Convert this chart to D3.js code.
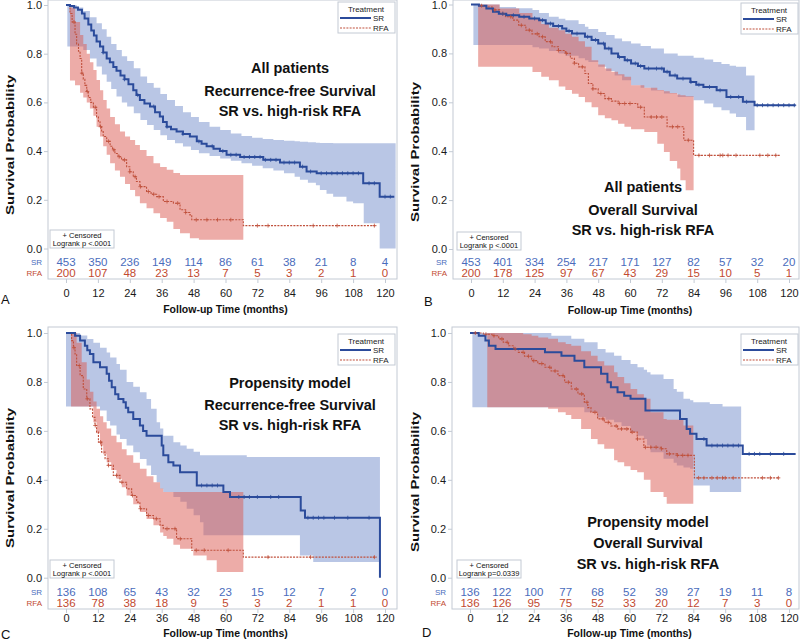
<!DOCTYPE html>
<html>
<head>
<meta charset="utf-8">
<script src="https://cdn.jsdelivr.net/npm/d3@7"></script>
<style>
  body { margin: 0; background: #fff; }
  text { font-family: "Liberation Sans", Arial, sans-serif; }
</style>
</head>
<body>
<svg id="chart" width="800" height="644"></svg>
<script>
// ---- data ----
const xTicks = [0, 12, 24, 36, 48, 60, 72, 84, 96, 108, 120];
const yTicks = [0, 0.2, 0.4, 0.6, 0.8, 1.0];
const groups = ["SR", "RFA"];

// A: all patients, recurrence-free survival
const aSrCurve = [[0,1],[1.5,0.996],[3,0.99],[4.5,0.98],[6,0.965],[7,0.945],[8.4,0.92],[9.5,0.895],[10.5,0.875],[11.5,0.85],[12.8,0.83],[14,0.805],[15.3,0.78],[16.5,0.765],[17.8,0.745],[19,0.73],[20.5,0.71],[22,0.695],[23.5,0.675],[25.3,0.65],[26.5,0.63],[27.8,0.61],[29.5,0.595],[31.6,0.583],[33.5,0.56],[35.3,0.542],[36.5,0.52],[37.9,0.5],[39.5,0.49],[41.6,0.48],[44,0.47],[46.6,0.46],[49.2,0.44],[51,0.43],[52.9,0.42],[55.5,0.41],[57.9,0.4],[60.4,0.385],[65.5,0.376],[74.2,0.364],[80.5,0.353],[88,0.336],[90.5,0.316],[94.3,0.309],[111.8,0.268],[118,0.213],[123.5,0.213]];
const aSrBand = [[0.5,0.83,1],[4,0.83,0.99],[6.5,0.815,0.975],[9,0.78,0.95],[11.5,0.747,0.925],[13.5,0.715,0.9],[15.3,0.685,0.87],[17,0.655,0.84],[19,0.624,0.815],[21,0.6,0.79],[23,0.583,0.77],[25.5,0.555,0.74],[28,0.528,0.706],[30.5,0.507,0.68],[33,0.487,0.66],[35.5,0.465,0.635],[38,0.446,0.61],[41,0.432,0.585],[44,0.419,0.56],[47,0.405,0.54],[50,0.391,0.52],[54,0.38,0.5],[58,0.37,0.487],[62,0.36,0.472],[66,0.35,0.462],[70,0.34,0.455],[74,0.33,0.45],[78,0.32,0.446],[82,0.309,0.443],[86,0.295,0.44],[88,0.282,0.438],[91,0.27,0.436],[94,0.26,0.434],[95.5,0.24,0.433],[98,0.225,0.433],[100.5,0.213,0.432],[105.5,0.193,0.432],[108,0.186,0.432],[112,0.104,0.432],[118,0,0.432],[124,0,0.432]];
const aSrCens = [14,22,27,33,38,44,50,55,59,62,64,67,69,71,73,75,77,79,82,84,86,89,92,96,98,100,102,104,106,108,110,114,116,120,122];
const aRfaCurve = [[0,1],[1.5,0.965],[2.3,0.93],[3.4,0.88],[4,0.84],[4.7,0.81],[5.3,0.78],[5.9,0.72],[6.5,0.695],[7.1,0.67],[7.8,0.645],[8.4,0.62],[9.3,0.6],[10.3,0.58],[11.5,0.54],[12.2,0.52],[12.8,0.5],[13.4,0.48],[14,0.46],[15.3,0.44],[16.6,0.42],[17.5,0.405],[18.4,0.39],[19.6,0.377],[20.9,0.364],[22.8,0.336],[24,0.315],[25.3,0.295],[26.5,0.275],[27.8,0.254],[30.3,0.234],[32,0.223],[34.1,0.213],[36.6,0.193],[40.4,0.186],[42.9,0.159],[45,0.148],[46.6,0.138],[47.3,0.118],[66.7,0.094],[116.9,0.094]];
const aRfaBand = [[1.5,0.69,0.99],[3.4,0.67,0.93],[5.3,0.64,0.877],[6.5,0.62,0.84],[7.8,0.6,0.8],[9,0.575,0.765],[10.3,0.545,0.733],[11.5,0.5,0.692],[12.8,0.46,0.65],[14,0.42,0.61],[15.3,0.385,0.575],[16.6,0.35,0.54],[18.4,0.32,0.51],[20.3,0.295,0.48],[22.2,0.265,0.46],[24.1,0.24,0.446],[26,0.215,0.425],[27.8,0.186,0.405],[30.3,0.165,0.38],[32.9,0.145,0.35],[35.4,0.125,0.335],[37.9,0.11,0.323],[40.4,0.08,0.31],[42.9,0.063,0.302],[46.6,0.042,0.302],[50,0.036,0.302],[66.7,0.036,0.302]];
const aRfaCens = [3,6,8,11,13,16,18,20,22,24,26,28,31,33,35,38,42,45,49,53,57,62,72,76,93,102,116];
const aRiskSr = [453,350,236,149,114,86,61,38,21,8,4];
const aRiskRfa = [200,107,48,23,13,7,5,3,2,1,0];
const aTitle = ["All patients", "Recurrence-free Survival", "SR vs. high-risk RFA"];
const aLogrank = "Logrank p <.0001";

// B: all patients, overall survival
const bSrCurve = [[0,1],[3,0.995],[5.8,0.984],[8.3,0.97],[10.5,0.962],[13.3,0.956],[18.2,0.95],[22,0.943],[25.7,0.936],[28.2,0.922],[31,0.912],[34.4,0.902],[36,0.892],[38.1,0.881],[43,0.868],[45.5,0.855],[48,0.84],[50.5,0.82],[53,0.8],[55.5,0.785],[58,0.772],[60.4,0.759],[63,0.748],[65.4,0.738],[72.8,0.725],[75,0.71],[77.8,0.697],[82.8,0.683],[85,0.672],[87.7,0.663],[92.7,0.649],[96.4,0.622],[102.6,0.602],[107,0.588],[122.5,0.588]];
const bSrBand = [[0.9,0.834,1],[10.8,0.834,0.99],[17,0.834,0.985],[23.2,0.825,0.977],[25.7,0.82,0.965],[29.4,0.81,0.95],[33.1,0.8,0.942],[35.6,0.79,0.936],[40.6,0.78,0.92],[43,0.772,0.909],[44.3,0.765,0.9],[48,0.745,0.888],[51,0.728,0.875],[54.2,0.71,0.861],[57,0.69,0.85],[60.4,0.67,0.84],[64,0.66,0.83],[67.9,0.648,0.82],[72.8,0.636,0.8],[78,0.622,0.79],[84,0.608,0.782],[88,0.595,0.775],[91.4,0.58,0.765],[94.5,0.567,0.757],[97.6,0.554,0.75],[100,0.54,0.745],[103.8,0.486,0.71],[107,0.486,0.71]];
const bSrCens = [12,16,20,24,27,30,33,37,40,44,47,50,52,56,59,62,64,67,70,72,74,77,80,83,86,90,94,98,101,104,108,110,112,114,116,118,120,122];
const bRfaCurve = [[0,1],[3,0.995],[5.8,0.99],[8,0.978],[10.8,0.963],[13,0.95],[15.8,0.936],[18,0.915],[20.7,0.895],[23,0.88],[25.7,0.868],[28,0.848],[30.6,0.827],[33,0.812],[35.6,0.8],[37.5,0.78],[39,0.76],[40.6,0.745],[43,0.718],[44.3,0.677],[46,0.655],[48,0.636],[50.5,0.615],[53,0.605],[55.5,0.595],[62.9,0.58],[65.4,0.54],[74,0.5],[80.3,0.445],[84,0.383],[116.5,0.383]];
const bRfaBand = [[2.7,0.745,1],[10.8,0.745,0.984],[18.2,0.745,0.965],[23.2,0.724,0.943],[26.5,0.705,0.92],[29.4,0.69,0.905],[33.1,0.665,0.895],[35.6,0.65,0.88],[38.1,0.635,0.868],[40.6,0.622,0.85],[43,0.6,0.827],[45.5,0.58,0.772],[48,0.547,0.755],[50.5,0.535,0.738],[53,0.527,0.725],[55.5,0.512,0.715],[57.9,0.5,0.704],[60.4,0.49,0.67],[65.4,0.479,0.66],[70.3,0.43,0.65],[72.8,0.397,0.645],[75,0.36,0.638],[77.8,0.329,0.632],[79,0.281,0.629],[81,0.24,0.625],[84,0.24,0.622]];
const bRfaCens = [4,9,12,15,19,22,25,27,30,33,36,39,42,46,49,52,56,58,60,64,68,70,72,76,78,82,86,90,94,95,97,100,109,112,115];
const bRiskSr = [453,401,334,254,217,171,127,82,57,32,20];
const bRiskRfa = [200,178,125,97,67,43,29,15,10,5,1];
const bTitle = ["All patients", "Overall Survival", "SR vs. high-risk RFA"];
const bLogrank = "Logrank p <.0001";

// C: propensity model, recurrence-free survival
const cSrCurve = [[0,1],[3.4,0.989],[5.3,0.969],[7.1,0.948],[8,0.93],[9,0.914],[10.3,0.88],[12.8,0.86],[15.3,0.833],[16.2,0.805],[17.2,0.778],[18.5,0.75],[19.7,0.73],[21.6,0.717],[22.5,0.695],[23.4,0.676],[25.3,0.649],[27.8,0.622],[29,0.6],[30.3,0.58],[35.4,0.58],[36,0.54],[36.6,0.5],[38.5,0.472],[40.4,0.459],[42.9,0.431],[48,0.431],[49.2,0.377],[58,0.377],[59.2,0.35],[61.7,0.33],[88.3,0.275],[89.9,0.245],[118.1,0]];
const cSrBand = [[0,0.7,1],[5.3,0.7,0.99],[8,0.7,0.975],[10.3,0.7,0.96],[12.8,0.683,0.94],[15.3,0.64,0.92],[16.6,0.622,0.9],[19,0.585,0.873],[20.3,0.567,0.85],[22.8,0.54,0.8],[25.3,0.513,0.78],[27.8,0.485,0.758],[30.3,0.459,0.73],[32,0.42,0.69],[34.1,0.39,0.635],[35.4,0.363,0.61],[36.6,0.35,0.58],[40.4,0.33,0.554],[43,0.31,0.54],[45.4,0.282,0.527],[48,0.255,0.515],[50.4,0.227,0.5],[51.7,0.173,0.5],[68,0.173,0.493],[88,0.091,0.493],[93,0.064,0.493],[118.1,0.064,0.493]];
const cSrCens = [51,53,55,57,65,67,69,72,77,80,91,93,95,97,101,106,114];
const cRfaCurve = [[0,1],[2.1,0.969],[2.8,0.94],[3.4,0.914],[4,0.867],[5.3,0.826],[6.5,0.771],[7.8,0.731],[9,0.69],[10,0.655],[10.9,0.622],[11.5,0.595],[12.2,0.554],[13.4,0.513],[14.7,0.486],[15.9,0.459],[17.8,0.418],[20.3,0.39],[22.8,0.363],[24.7,0.336],[26.6,0.309],[27.8,0.282],[30.3,0.254],[32.9,0.241],[35.4,0.214],[36.6,0.2],[41.6,0.159],[47.3,0.112],[66.7,0.084],[116.9,0.084]];
const cRfaBand = [[1.9,0.7,1],[4,0.7,0.96],[5.9,0.7,0.88],[7.8,0.7,0.81],[9,0.7,0.76],[10.3,0.635,0.72],[11.5,0.59,0.69],[12.8,0.54,0.66],[14,0.505,0.635],[15.3,0.472,0.61],[17,0.44,0.58],[19,0.404,0.554],[21,0.37,0.525],[22.8,0.336,0.5],[25.3,0.3,0.47],[27.8,0.268,0.445],[30.3,0.24,0.415],[32.9,0.214,0.39],[35.4,0.185,0.365],[36.6,0.17,0.35],[37.9,0.159,0.35],[40.4,0.135,0.35],[42.9,0.118,0.35],[47.9,0.091,0.35],[52.9,0.071,0.35],[56.7,0.023,0.35],[66.7,0.023,0.35]];
const cRfaCens = [3,5,8,11,13,16,19,21,25,28,31,34,38,41,43,49,52,61,76,92,116];
const cRiskSr = [136,108,65,43,32,23,15,12,7,2,0];
const cRiskRfa = [136,78,38,18,9,5,3,2,1,1,0];
const cTitle = ["Propensity model", "Recurrence-free Survival", "SR vs. high-risk RFA"];
const cLogrank = "Logrank p <.0001";

// D: propensity model, overall survival
const dSrCurve = [[0,1],[3.3,0.989],[5.8,0.969],[7.1,0.948],[9.6,0.935],[28.2,0.921],[34.4,0.907],[39.3,0.887],[43,0.86],[49.3,0.833],[51.7,0.799],[53,0.778],[55.5,0.758],[58,0.744],[60.4,0.731],[66,0.683],[79,0.649],[81.5,0.608],[82.8,0.588],[85.2,0.567],[89,0.54],[102.6,0.506],[122.5,0.506]];
const dSrBand = [[0.9,0.697,1],[25,0.697,1],[30.6,0.697,0.989],[38.1,0.697,0.976],[43,0.676,0.962],[48,0.656,0.935],[51,0.645,0.92],[54.2,0.635,0.907],[57,0.62,0.89],[60.4,0.595,0.873],[63,0.58,0.86],[65.4,0.567,0.85],[66.6,0.54,0.84],[67.9,0.513,0.83],[72.8,0.486,0.812],[76.6,0.47,0.771],[77.8,0.459,0.76],[80.3,0.45,0.731],[82.8,0.445,0.725],[84,0.377,0.717],[90.2,0.35,0.71],[95,0.35,0.7],[102,0.35,0.697]];
const dSrCens = [88,91,93,95,97,99,101,105,107,109,113,118];
const dRfaCurve = [[0,1],[5,0.995],[8.3,0.989],[10.8,0.976],[12.5,0.962],[14.5,0.948],[16.5,0.935],[18.2,0.921],[20.5,0.905],[23.2,0.887],[25.5,0.875],[28.2,0.86],[30.5,0.845],[33.1,0.826],[35.6,0.799],[38.1,0.771],[40.6,0.751],[43,0.717],[44.3,0.695],[45.5,0.676],[48,0.649],[50.5,0.635],[53,0.62],[55.5,0.608],[60.4,0.595],[62.9,0.567],[65.4,0.533],[72,0.527],[74,0.506],[78,0.5],[84.4,0.408],[116.5,0.408]];
const dRfaBand = [[6.5,0.697,1],[20,0.697,0.995],[23.2,0.697,0.989],[25.7,0.697,0.982],[29.4,0.69,0.976],[33.1,0.676,0.962],[36,0.665,0.955],[38.1,0.649,0.948],[41.8,0.608,0.925],[45.5,0.567,0.907],[48,0.545,0.885],[50.5,0.527,0.867],[54.2,0.48,0.84],[55.5,0.472,0.82],[58,0.455,0.795],[60.4,0.44,0.771],[62.9,0.431,0.75],[65.4,0.4,0.731],[67.9,0.35,0.676],[72.8,0.33,0.649],[74,0.302,0.645],[80.3,0.302,0.622],[84,0.302,0.622]];
const dRfaCens = [2,6,9,12,14,17,20,22,24,27,30,32,35,37,40,42,44,47,50,52,55,57,59,61,63,66,68,70,72,75,78,80,82,86,88,91,93,95,96,99,110,113,116];
const dRiskSr = [136,122,100,77,68,52,39,27,19,11,8];
const dRiskRfa = [136,126,95,75,52,33,20,12,7,3,0];
const dTitle = ["Propensity model", "Overall Survival", "SR vs. high-risk RFA"];
const dLogrank = "Logrank p=0.0339";

// ---- layout ----
const srColor = "#2b4b9b";
const rfaColor = "#c0503c";
const srText = "#4a6cbc";
const rfaText = "#c24a30";
const frameColor = "#c3cad4";

const panels = [
  { letter: "A", sr: [aSrCurve, aSrBand, aSrCens], rfa: [aRfaCurve, aRfaBand, aRfaCens], risk: [aRiskSr, aRiskRfa], title: aTitle, logrank: aLogrank,
    x0: 66, x1: 385, yTop: 5, yBot: 248.5, fx0: 48, fx1: 397, fy0: 0, fy1: 279, riskY: [266, 277], tickBase: 297, xTitleY: 313,
    letterPos: [1, 304], titlePos: [290, [73, 96, 116]], legend: [338, 2], note: [50, 230], yTitle: [10, 145] },
  { letter: "B", sr: [bSrCurve, bSrBand, bSrCens], rfa: [bRfaCurve, bRfaBand, bRfaCens], risk: [bRiskSr, bRiskRfa], title: bTitle, logrank: bLogrank,
    x0: 471, x1: 789, yTop: 4.5, yBot: 249, fx0: 453, fx1: 799, fy0: 0, fy1: 279, riskY: [266, 277], tickBase: 297, xTitleY: 314,
    letterPos: [424, 306], titlePos: [643, [192, 215, 235]], legend: [741, 3], note: [457, 232], yTitle: [415, 152] },
  { letter: "C", sr: [cSrCurve, cSrBand, cSrCens], rfa: [cRfaCurve, cRfaBand, cRfaCens], risk: [cRiskSr, cRiskRfa], title: cTitle, logrank: cLogrank,
    x0: 66, x1: 385, yTop: 333, yBot: 577.7, fx0: 48, fx1: 397, fy0: 327, fy1: 609, riskY: [596, 607], tickBase: 622, xTitleY: 637,
    letterPos: [1, 639], titlePos: [290, [388, 410, 430]], legend: [338, 334], note: [50, 560], yTitle: [10, 478] },
  { letter: "D", sr: [dSrCurve, dSrBand, dSrCens], rfa: [dRfaCurve, dRfaBand, dRfaCens], risk: [dRiskSr, dRiskRfa], title: dTitle, logrank: dLogrank,
    x0: 470, x1: 789, yTop: 333, yBot: 577.7, fx0: 452, fx1: 799, fy0: 327, fy1: 609, riskY: [596, 607], tickBase: 622, xTitleY: 637,
    letterPos: [422, 637], titlePos: [648, [527, 548, 569]], legend: [741, 334], note: [457, 560], yTitle: [415, 482] }
];

const survAt = (curve, t) => {
  let s = curve[0][1];
  curve.forEach(p => { if (p[0] <= t) s = p[1]; });
  return s;
};

const svg = d3.select("#chart");

const drawPanel = (p) => {
  const x = d3.scaleLinear().domain([0, 120]).range([p.x0, p.x1]);
  const y = d3.scaleLinear().domain([0, 1]).range([p.yBot, p.yTop]);
  const g = svg.append("g").attr("class", "panel-" + p.letter);

  // frame
  g.append("rect")
    .attr("x", p.fx0).attr("y", p.fy0)
    .attr("width", p.fx1 - p.fx0).attr("height", p.fy1 - p.fy0)
    .attr("fill", "none").attr("stroke", frameColor).attr("stroke-width", 1);

  const band = d3.area().curve(d3.curveStepAfter)
    .x(d => x(d[0])).y0(d => y(d[1])).y1(d => y(d[2]));
  const line = d3.line().curve(d3.curveStepAfter)
    .x(d => x(d[0])).y(d => y(d[1]));

  g.append("path").attr("d", band(p.sr[1]))
    .attr("fill", "#7f97d0").attr("fill-opacity", 0.55);
  g.append("path").attr("d", band(p.rfa[1]))
    .attr("fill", "#dc5a52").attr("fill-opacity", 0.5);

  g.append("path").attr("d", line(p.rfa[0]))
    .attr("fill", "none").attr("stroke", rfaColor)
    .attr("stroke-width", 1.1).attr("stroke-dasharray", "2,1.2");
  g.append("path").attr("d", line(p.sr[0]))
    .attr("fill", "none").attr("stroke", srColor).attr("stroke-width", 2);

  // censor marks
  const cross = (sel, curve, times, color) => {
    sel.selectAll(null).data(times).enter().append("path")
      .attr("transform", t => `translate(${x(t)},${y(survAt(curve, t))})`)
      .attr("d", "M-2,0H2M0,-2V2")
      .attr("stroke", color).attr("stroke-width", 0.8).attr("fill", "none");
  };
  cross(g, p.rfa[0], p.rfa[2], rfaColor);
  cross(g, p.sr[0], p.sr[2], srColor);

  // axes
  const yAxis = d3.axisLeft(y).tickValues(yTicks).tickFormat(d3.format(".1f"))
    .tickSize(4).tickPadding(2);
  const ya = g.append("g").attr("transform", `translate(${p.fx0},0)`).call(yAxis);
  const pad = p.tickBase - p.fy1 - 4 - 0.71 * 11;
  const xAxis = d3.axisBottom(x).tickValues(xTicks).tickSize(4).tickPadding(pad);
  const xa = g.append("g").attr("transform", `translate(0,${p.fy1})`).call(xAxis);
  [ya, xa].forEach(a => {
    a.select(".domain").remove();
    a.selectAll(".tick line").attr("stroke", frameColor);
    a.selectAll(".tick text").attr("fill", "#1a1a1a")
      .style("font-size", "11px").style("font-family", '"Liberation Sans", Arial, sans-serif');
  });

  // at-risk table
  groups.forEach((grp, i) => {
    const vals = p.risk[i];
    const col = i === 0 ? srText : rfaText;
    g.append("text").attr("x", p.fx0 - 6).attr("y", p.riskY[i] - 1)
      .attr("text-anchor", "end").attr("fill", col).style("font-size", "8px").text(grp);
    g.selectAll(null).data(vals).enter().append("text")
      .attr("x", (d, k) => x(xTicks[k])).attr("y", p.riskY[i])
      .attr("text-anchor", "middle").attr("fill", col).style("font-size", "11.5px")
      .text(d => d);
  });

  // axis titles
  g.append("text").attr("x", (p.x0 + p.x1) / 2).attr("y", p.xTitleY)
    .attr("text-anchor", "middle").style("font-size", "10.5px").style("font-weight", "bold")
    .attr("fill", "#111").text("Follow-up Time (months)");
  g.append("text")
    .attr("transform", `translate(${p.yTitle[0] + 4},${p.yTitle[1]}) rotate(-90)`)
    .attr("text-anchor", "middle").style("font-size", "10.5px").style("font-weight", "bold")
    .attr("textLength", 140).attr("lengthAdjust", "spacingAndGlyphs")
    .attr("fill", "#111").text("Survival Probability");

  // panel letter
  g.append("text").attr("x", p.letterPos[0]).attr("y", p.letterPos[1])
    .style("font-size", "13px").attr("fill", "#111").text(p.letter);

  // in-plot title
  p.title.forEach((t, i) => {
    g.append("text").attr("x", p.titlePos[0]).attr("y", p.titlePos[1][i])
      .attr("text-anchor", "middle").style("font-size", "14.5px").style("font-weight", "bold")
      .attr("fill", "#111").text(t);
  });

  // legend
  const [lx, ly] = p.legend;
  const lg = g.append("g").attr("transform", `translate(${lx},${ly})`);
  lg.append("rect").attr("width", 57).attr("height", 31)
    .attr("fill", "#fff").attr("stroke", frameColor);
  lg.append("text").attr("x", 28).attr("y", 9.5).attr("text-anchor", "middle")
    .style("font-size", "8px").attr("fill", "#222").text("Treatment");
  groups.forEach((grp, i) => {
    const yy = 16 + i * 10;
    lg.append("line").attr("x1", 2).attr("x2", 33).attr("y1", yy).attr("y2", yy)
      .attr("stroke", i === 0 ? srColor : rfaColor)
      .attr("stroke-width", i === 0 ? 2 : 1.1)
      .attr("stroke-dasharray", i === 0 ? null : "2,1.2");
    lg.append("text").attr("x", 35).attr("y", yy + 3)
      .style("font-size", "8px").attr("fill", "#222").text(grp);
  });

  // censored / logrank note
  const [nx, ny] = p.note;
  const ng = g.append("g").attr("transform", `translate(${nx},${ny})`);
  ng.append("rect").attr("width", 64).attr("height", 18)
    .attr("fill", "#fff").attr("stroke", frameColor);
  ng.append("text").attr("x", 32).attr("y", 7.5).attr("text-anchor", "middle")
    .style("font-size", "7.5px").attr("fill", "#111").text("+ Censored");
  ng.append("text").attr("x", 32).attr("y", 15.5).attr("text-anchor", "middle")
    .style("font-size", "7.5px").attr("fill", "#111").text(p.logrank);
};

panels.forEach(drawPanel);
</script>
</body>
</html>
